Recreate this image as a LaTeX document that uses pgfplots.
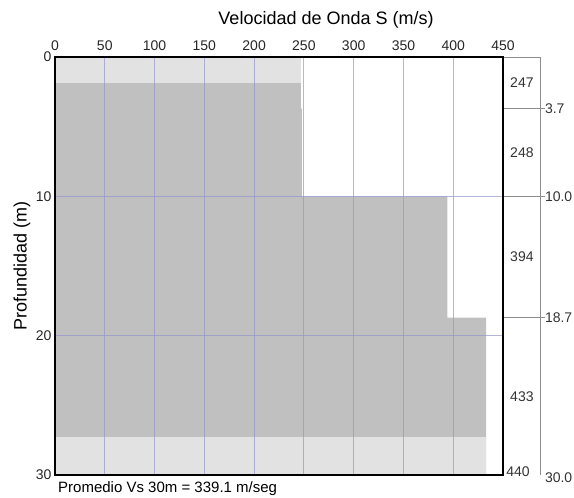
\documentclass[border=0pt]{standalone}
\usepackage{pgfplots}
\pgfplotsset{compat=1.18}
\usepackage{fontspec}
\setmainfont{Liberation Sans}
\definecolor{bardark}{RGB}{192,192,192}
\definecolor{barlight}{RGB}{226,226,226}
\definecolor{gridc}{RGB}{150,150,205}
\definecolor{panelc}{RGB}{140,140,140}
\begin{document}
\begin{tikzpicture}
\useasboundingbox (0,0) rectangle (574bp,-498bp);
\begin{axis}[
  at={(55bp,-57bp)}, anchor=north west,
  scale only axis, width=448bp, height=418bp,
  xmin=0, xmax=450, ymin=0, ymax=30,
  y dir=reverse,
  xtick={0,50,...,450}, ytick={0,10,20,30},
  xticklabel pos=upper,
  major tick length=0pt,
  grid=major,
  grid style={gridc, line width=0.8bp, opacity=0.7},
  axis on top,
  axis line style={black, line width=1.3bp},
  clip=false,
  /pgf/number format/assume math mode=true,
  ticklabel style={font=\fontsize{14bp}{16bp}\selectfont, text=black!85},
  xticklabel style={yshift=2.5bp},
  xlabel={Velocidad de Onda S (m/s)},
  xlabel style={font=\fontsize{18bp}{20bp}\selectfont, at={(axis description cs:0.605,1)}, anchor=center, yshift=37bp},
  ylabel={Profundidad (m)},
  ylabel style={font=\fontsize{18bp}{20bp}\selectfont, at={(axis description cs:-0.074,0.5)}, anchor=center, rotate=0},
]
% velocity profile (Vs in m/s, depth in m)
\addplot[fill=bardark, draw=none] coordinates {
  (0,0) (247,0) (247,3.7) (248,3.7) (248,10) (394,10) (394,18.7) (433,18.7) (433,30) (0,30)
} --cycle;
% lighter zones
\addplot[fill=barlight, draw=none] coordinates {(0,0) (247,0) (247,1.9) (0,1.9)} --cycle;
\addplot[fill=barlight, draw=none] coordinates {(0,27.3) (433,27.3) (433,30) (0,30)} --cycle;
% right panel
\draw[panelc, line width=0.6bp] (axis cs:450,0) -- (axis cs:487,0) -- (axis cs:487,30);
\draw[panelc, line width=0.6bp] (axis cs:450,3.7) -- (axis cs:492,3.7);
\draw[panelc, line width=0.6bp] (axis cs:450,10) -- (axis cs:492,10);
\draw[panelc, line width=0.6bp] (axis cs:450,18.7) -- (axis cs:492,18.7);
\begin{scope}[font=\fontsize{14bp}{16bp}\selectfont, text=black!80]
\node at (axis cs:469,1.85) {247};
\node at (axis cs:469,6.85) {248};
\node at (axis cs:469,14.35) {394};
\node at (axis cs:469,24.35) {433};
\node[anchor=south] at (axis cs:465,30.4) {440};
\node[anchor=west, inner sep=1bp] at (axis cs:491,3.7) {3.7};
\node[anchor=west, inner sep=1bp] at (axis cs:491,10) {10.0};
\node[anchor=west, inner sep=1bp] at (axis cs:491,18.7) {18.7};
\node[anchor=west, inner sep=1bp] at (axis cs:491,30.2) {30.0};
\end{scope}
\end{axis}
\node[anchor=west, font=\fontsize{15bp}{17bp}\selectfont, inner sep=0pt] at (58bp,-489bp) {Promedio Vs 30m = 339.1 m/seg};
\end{tikzpicture}
\end{document}
